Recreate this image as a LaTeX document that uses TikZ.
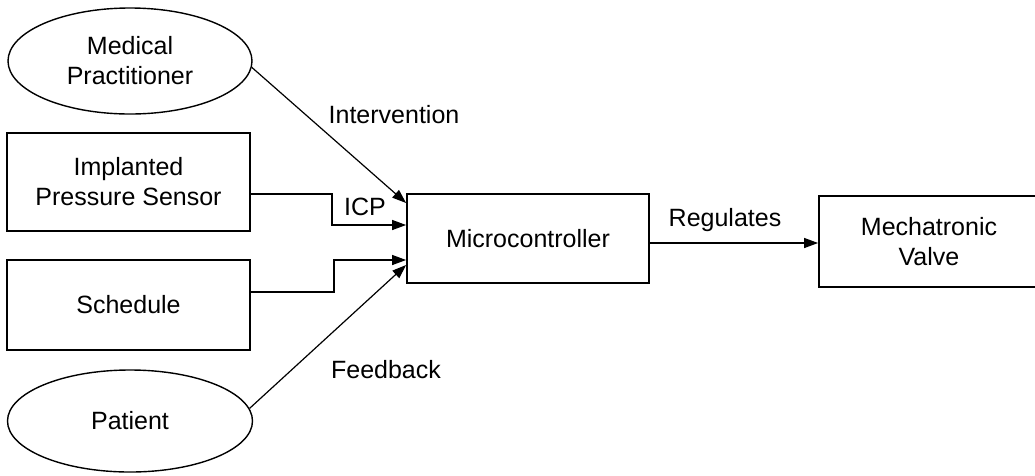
\documentclass[tikz,border=0pt]{standalone}
\usepackage{fontspec}
\setmainfont{Liberation Sans}
\usetikzlibrary{arrows.meta,shapes.geometric}
\begin{document}
\begin{tikzpicture}[x=1pt,y=-1pt,
  every node/.style={font=\fontsize{25}{30}\selectfont},
  boxnode/.style={draw,line width=1.8pt,rectangle,inner sep=0pt,align=center},
  ellnode/.style={draw,line width=1.4pt,ellipse,inner sep=0pt,align=center},
  conn/.style={line width=1.2pt},
  arr/.style={conn,-{Triangle[length=14pt,width=10pt]}},
  lbl/.style={anchor=base,inner sep=0pt}]
\fill[white] (0,0) rectangle (1035,475);
\useasboundingbox (0,0) rectangle (1035,475);
\node[ellnode,minimum width=244pt,minimum height=106pt] (mp) at (130,61) {Medical\\Practitioner};
\node[boxnode,minimum width=243pt,minimum height=98pt] (ips) at (128.5,182) {Implanted\\Pressure Sensor};
\node[boxnode,minimum width=243pt,minimum height=90pt] (sch) at (128.5,305) {Schedule};
\node[ellnode,minimum width=245pt,minimum height=102pt] (pt) at (130,421) {Patient};
\node[boxnode,minimum width=242pt,minimum height=89pt] (mc) at (528,238.5) {Microcontroller};
\node[boxnode,minimum width=220pt,minimum height=91pt] (vv) at (929,241.5) {Mechatronic\\Valve};
\draw[arr] (mp.-3) -- ([yshift=35.5pt]mc.west);
\draw[arr] ([yshift=-12pt]ips.east) -- ++(81,0) |- ([yshift=13.5pt]mc.west);
\draw[arr] ([yshift=13pt]sch.east) -- ++(83,0) |- ([yshift=-21.5pt]mc.west);
\draw[arr] (pt.6) -- ([yshift=-26.5pt]mc.west);
\draw[arr] ([yshift=-4.5pt]mc.east) -- ([yshift=-4.5pt]mc.east -| vv.west);
\node[lbl] (lint) at (394,123) {Intervention};
\node[lbl] (licp) at (365,215) {ICP};
\node[lbl] (lfb) at (386,378) {Feedback};
\node[lbl] (lreg) at (725,226) {Regulates};
\end{tikzpicture}
\end{document}
